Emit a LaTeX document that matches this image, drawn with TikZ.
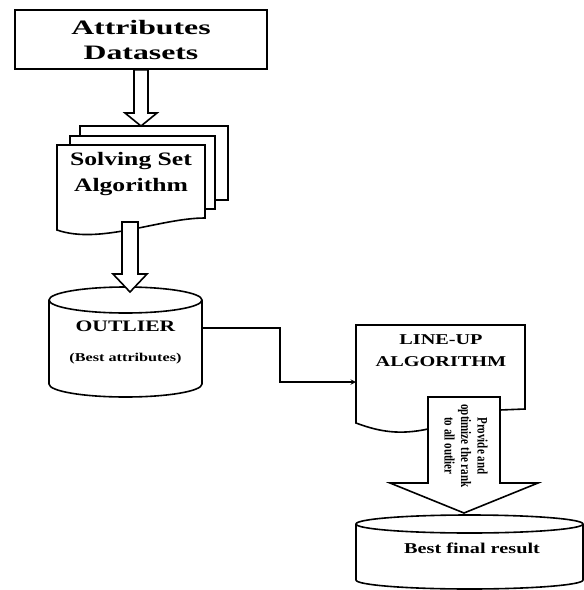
\documentclass[tikz,border=0pt]{standalone}
\usepackage{fontspec}
\setmainfont{Liberation Serif}[FakeStretch=1.35]
\newfontfamily\widefont{Liberation Serif}[FakeStretch=1.55]
\newfontfamily\narrowfont{Liberation Serif}[FakeStretch=0.76]
\usetikzlibrary{calc}

% hollow block arrow: tail, tip, shaft half width, head half width, head length
\newcommand{\fatarrow}[5]{%
  \draw[outline, line join=miter] ($(#1)+(-#3,0)$) -- ($(#2)+(-#3,#5)$) -- ($(#2)+(-#4,#5)$) -- (#2)
    -- ($(#2)+(#4,#5)$) -- ($(#2)+(#3,#5)$) -- ($(#1)+(#3,0)$) -- cycle;}

% database drum: centre x, top y, bottom y, x radius, y radius
\newcommand{\drum}[5]{%
  \draw[outline] (#1-#4,#2) -- (#1-#4,#3) arc[start angle=180, end angle=360, x radius=#4, y radius=#5] -- (#1+#4,#2);
  \draw[outline] (#1,#2) ellipse [x radius=#4, y radius=#5];}

\begin{document}
\begin{tikzpicture}[x=1pt, y=1pt,
    outline/.style={line width=1.6pt, fill=white},
    link/.style={line width=1.4pt, ->, >=stealth},
    txt/.style={align=center, inner sep=0pt}]
    % Page
    \path[use as bounding box] (0,0) rectangle (584,-590);

    % Input data
    \node[draw, line width=1.8pt, minimum width=252, minimum height=59, inner sep=0pt, align=center,
          font=\widefont\bfseries\fontsize{20.5}{25}\selectfont] (attr) at (141,-39.5) {Attributes\\Datasets};

    % Solving set pages (back to front)
    \draw[outline] (80,-126) rectangle (228,-200);
    \draw[outline] (70,-136) rectangle (215,-209);
    \draw[outline] (57,-230) -- (57,-145) -- (205,-145) -- (205,-218) .. controls (160,-218) and (100,-245) .. (57,-230) -- cycle;
    \node[txt, font=\bfseries\fontsize{19}{27}\selectfont] (solve) at (131,-174) {Solving Set\\Algorithm};

    \coordinate (solvetop) at (attr.south |- 0,-126);
    \fatarrow{attr.south}{solvetop}{7}{16}{13}

    % Outlier store
    \drum{125.5}{-300}{-384}{76.5}{13}
    \node[txt, font=\bfseries\fontsize{16}{20}\selectfont] (outlier) at (125.5,-342) {OUTLIER\\[10pt]\fontsize{12}{14}\selectfont(Best attributes)};

    \coordinate (a2tail) at (130,-222);
    \coordinate (a2tip) at (130,-292);
    \fatarrow{a2tail}{a2tip}{8}{17}{18}

    % Line-up document
    \draw[outline] (356,-423) -- (356,-325) -- (525,-325) -- (525,-409) -- (500,-410) -- (428,-429)
        .. controls (400,-435) and (380,-432) .. (356,-423) -- cycle;
    \node[txt, font=\bfseries\fontsize{15}{22}\selectfont] (lineup) at (441,-351) {LINE-UP\\ALGORITHM};

    \coordinate (outlierout) at (202,-328);
    \coordinate (bend) at (280,-382);
    \coordinate (lineupin) at (356,-382);
    \draw[link] (outlierout) -| (bend) -- (lineupin);

    % Final result
    \drum{469.5}{-524}{-580}{113.5}{9}
    \node[txt, font=\bfseries\fontsize{15}{18}\selectfont] (result) at (472,-548) {Best final result};

    \coordinate (ltail) at (464,-397);
    \coordinate (ltip) at (464,-513);
    \fatarrow{ltail}{ltip}{36}{74}{30}
    \node[txt, rotate=-90, font=\narrowfont\bfseries\fontsize{14.5}{16.5}\selectfont] (rank) at (466,-446) {Provide and\\optimize the rank\\to all outlier};
\end{tikzpicture}
\end{document}
